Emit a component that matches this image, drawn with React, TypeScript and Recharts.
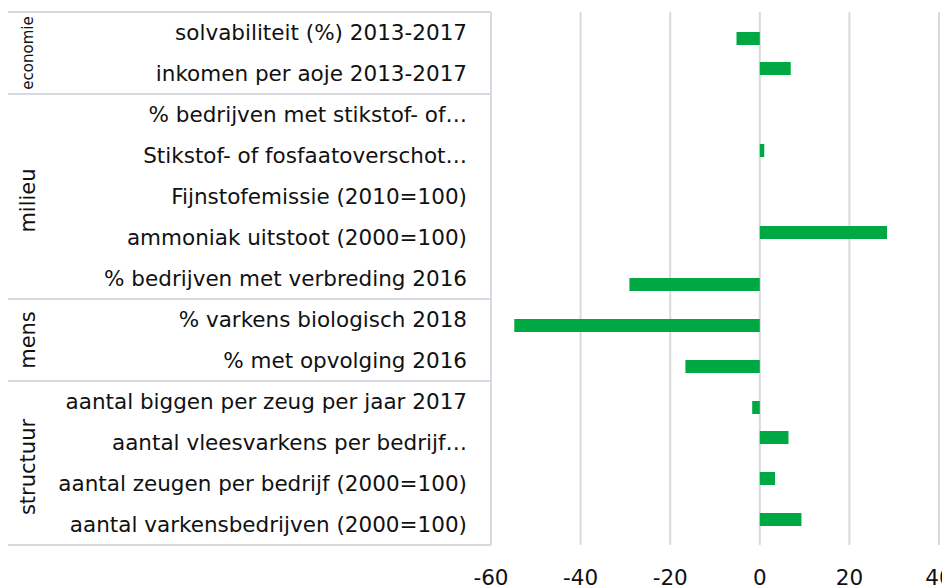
import React from 'react';
import { BarChart, Bar, XAxis, YAxis, CartesianGrid } from 'recharts';

const categories = [
  'solvabiliteit (%) 2013-2017',
  'inkomen per aoje 2013-2017',
  '% bedrijven met stikstof- of…',
  'Stikstof- of fosfaatoverschot…',
  'Fijnstofemissie (2010=100)',
  'ammoniak uitstoot (2000=100)',
  '% bedrijven met verbreding 2016',
  '% varkens biologisch 2018',
  '% met opvolging 2016',
  'aantal biggen per zeug per jaar 2017',
  'aantal vleesvarkens per bedrijf…',
  'aantal zeugen per bedrijf (2000=100)',
  'aantal varkensbedrijven (2000=100)',
];

const values: (number | null)[] = [-5.2, 6.9, null, 1.0, null, 28.4, -29.1, -54.8, -16.6, -1.7, 6.4, 3.4, 9.3];

const groupNames = ['economie', 'milieu', 'mens', 'structuur'];
const groupSizes = [2, 5, 2, 4];

const xTicks = [-60, -40, -20, 0, 20, 40];

// the chart sits inside the body's 8px margin
const W = 942;
const H = 580;
const MARGIN = { top: 4, right: 11, bottom: 13, left: 0 };
const AXIS_W = 483;
const X_AXIS_H = 30;
const BAND = (H - MARGIN.top - MARGIN.bottom - X_AXIS_H) / categories.length;
const FONT = '"DejaVu Sans", Verdana, sans-serif';
const LINE = '#d9d9e1';
const GREEN = '#00a843';
const INK = '#111';

const data = categories.map((name, i) => {
  const v = values[i];
  return {
    name,
    pos: v != null && v >= 0 ? v : null,
    neg: v != null && v < 0 ? v : null,
  };
});

const groupStarts: number[] = [];
groupSizes.reduce((acc, n) => {
  groupStarts.push(acc);
  return acc + n;
}, 0);

const CategoryTick = (props: any) => {
  const { x, y, payload } = props;
  const i = payload.index ?? props.index;
  const g = groupStarts.indexOf(i);
  const top = y - BAND / 2;
  const gx = g === 0 ? 25 : 27;
  const gy = top + (groupSizes[g] * BAND) / 2 + (g === 1 || g === 3 ? 4 : 0);
  return (
    <g>
      <text x={x} y={y} dy="0.35em" textAnchor="end" fontSize={21.5} fontFamily={FONT} fill={INK}>
        {payload.value}
      </text>
      {g >= 0 && (
        <g>
          <line x1={0} x2={AXIS_W} y1={top} y2={top} stroke={LINE} strokeWidth={2} />
          <text
            x={gx}
            y={gy}
            transform={`rotate(-90, ${gx}, ${gy})`}
            textAnchor="middle"
            fontSize={g === 0 ? 15 : 21}
            fontFamily={FONT}
            fill={INK}
          >
            {groupNames[g]}
          </text>
        </g>
      )}
      {i === categories.length - 1 && (
        <line x1={0} x2={AXIS_W} y1={y + BAND / 2} y2={y + BAND / 2} stroke={LINE} strokeWidth={2} />
      )}
    </g>
  );
};

export default function App() {
  return (
    <div style={{ width: W, height: H, background: '#fff' }}>
      <BarChart width={W} height={H} data={data} layout="vertical" margin={MARGIN} barSize={13} barGap={-2}>
        <CartesianGrid horizontal={false} stroke={LINE} strokeWidth={2} />
        <XAxis
          type="number"
          domain={[-60, 40]}
          ticks={xTicks}
          axisLine={false}
          tickLine={false}
          tickMargin={19}
          height={X_AXIS_H}
          tick={{ fontSize: 21.5, fontFamily: FONT, fill: INK }}
        />
        <YAxis
          type="category"
          dataKey="name"
          width={AXIS_W}
          interval={0}
          tickLine={false}
          tickMargin={18}
          axisLine={{ stroke: LINE, strokeWidth: 2 }}
          tick={<CategoryTick />}
        />
        <Bar dataKey="pos" fill={GREEN} isAnimationActive={false} />
        <Bar dataKey="neg" fill={GREEN} isAnimationActive={false} />
      </BarChart>
    </div>
  );
}
